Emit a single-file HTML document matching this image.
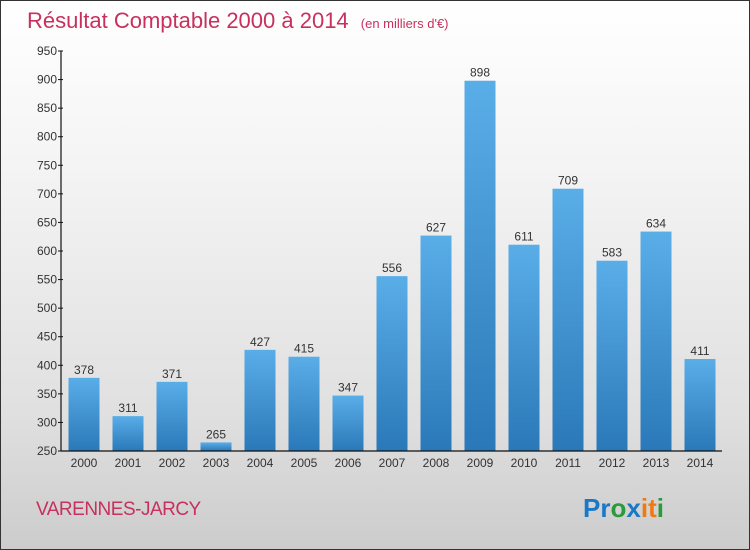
<!DOCTYPE html>
<html><head><meta charset="utf-8"><style>
body{margin:0}
#c{position:relative;width:748px;height:548px;border:1px solid #333;background:linear-gradient(#ffffff,#f4f4f4 30%,#e0e0e0 75%,#cccccc);overflow:hidden;font-family:"Liberation Sans",sans-serif}
svg text{font-family:"Liberation Sans",sans-serif}
</style></head><body>
<div id="c">
<svg id="s" width="748" height="548">
<defs><linearGradient id="g" x1="0" y1="0" x2="0" y2="1"><stop offset="0" stop-color="#5aaee8"/><stop offset="1" stop-color="#2a78b8"/></linearGradient></defs>
<text x="26" y="27" font-size="22" fill="#c8305e">Résultat Comptable 2000 à 2014 <tspan font-size="13" dx="6">(en milliers d'€)</tspan></text>
<text x="35" y="514" font-size="19" fill="#c8305e" letter-spacing="-0.5">VARENNES-JARCY</text>
<text x="582" y="516" font-size="26" font-weight="bold"><tspan fill="#1a78c8">Pr</tspan><tspan fill="#2a9a3a">o</tspan><tspan fill="#1a78c8">x</tspan><tspan fill="#f07a10">i</tspan><tspan fill="#f07a10">t</tspan><tspan fill="#2a9a3a">i</tspan></text>
</svg>
</div>
<script>
const years=["2000","2001","2002","2003","2004","2005","2006","2007","2008","2009","2010","2011","2012","2013","2014"];
const values=[378,311,371,265,427,415,347,556,627,898,611,709,583,634,411];
const ticks=[250,300,350,400,450,500,550,600,650,700,750,800,850,900,950];
const s=document.getElementById('s');const NS='http://www.w3.org/2000/svg';
const x0=60,x1=721,yTop=50,yBot=450,vMin=250,vMax=950;
const y=v=>yBot-(v-vMin)/(vMax-vMin)*(yBot-yTop);
const slot=(x1-x0-1)/years.length;
const xc=i=>x0+1+slot*(i+0.5);
function mk(t,a){const e=document.createElementNS(NS,t);for(const k in a)e.setAttribute(k,a[k]);s.appendChild(e);return e;}
values.forEach((v,i)=>{
 const r=mk('rect',{x:xc(i)-15.5,y:y(v),width:31,height:yBot-y(v),fill:'url(#g)'});
 
 
 const t=mk('text',{x:xc(i),y:y(v)-4,'font-size':12,fill:'#333','text-anchor':'middle'});t.textContent=v;
 
 
 const l=mk('text',{x:xc(i),y:466,'font-size':12,fill:'#333','text-anchor':'middle'});l.textContent=years[i];
 
 
});
const ya=mk('line',{x1:x0,y1:yTop,x2:x0,y2:yBot,stroke:'#111','stroke-width':1.2});


const xa=mk('line',{x1:x0,y1:yBot,x2:x1,y2:yBot,stroke:'#111','stroke-width':1.2});


ticks.forEach(v=>{
 mk('line',{x1:x0-3,y1:y(v),x2:x0+2,y2:y(v),stroke:'#111'});
 const t=mk('text',{x:x0-4,y:y(v)+4,'font-size':12,fill:'#333','text-anchor':'end'});t.textContent=v;
 
 
});
</script>
</body></html>
